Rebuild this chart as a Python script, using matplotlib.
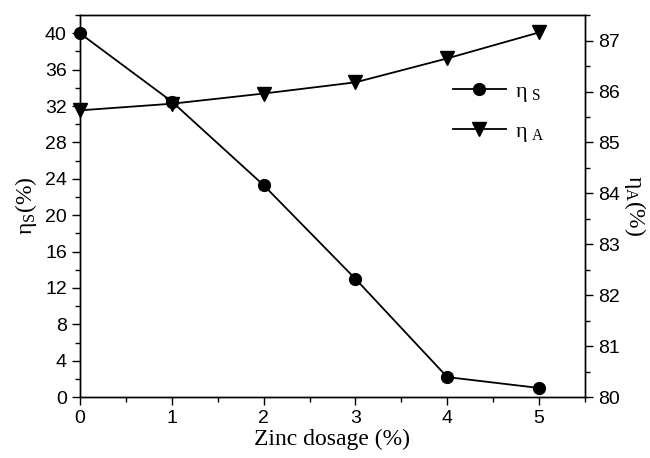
import matplotlib.pyplot as plt
from matplotlib.ticker import MultipleLocator

dosage = [0, 1, 2, 3, 4, 5]
eta_s = [40.0, 32.5, 23.3, 13.0, 2.2, 1.0]
eta_a = [85.63, 85.76, 85.96, 86.18, 86.65, 87.16]

plt.rcParams['font.family'] = ['Liberation Sans', 'DejaVu Sans']
plt.rcParams['xtick.direction'] = 'out'
plt.rcParams['ytick.direction'] = 'out'

fig = plt.figure(figsize=(6.5, 4.58), dpi=100)
ax = fig.add_axes([0.123, 0.133, 0.777, 0.834])
ax2 = ax.twinx()

l1, = ax.plot(dosage, eta_s, color='black', marker='o', ms=8.5, lw=1.3, clip_on=False, zorder=5)
l2, = ax2.plot(dosage, eta_a, color='black', marker='v', ms=9.5, lw=1.3, clip_on=False, zorder=5)

ax.set_xlim(0, 5.5)
ax.set_ylim(0, 42)
ax2.set_ylim(80, 87.5)

ax.xaxis.set_major_locator(MultipleLocator(1))
ax.xaxis.set_minor_locator(MultipleLocator(0.5))
ax.yaxis.set_major_locator(MultipleLocator(4))
ax.yaxis.set_minor_locator(MultipleLocator(2))
ax2.yaxis.set_major_locator(MultipleLocator(1))
ax2.yaxis.set_minor_locator(MultipleLocator(0.5))

for a in (ax, ax2):
    a.tick_params(which='major', length=6, width=1, labelsize=14)
    a.tick_params(which='minor', length=3.5, width=1)
    for s in a.spines.values():
        s.set_linewidth(1)

serif = ['Liberation Serif', 'DejaVu Serif']
ax.set_xlabel('Zinc dosage (%)', family=serif, fontsize=17, labelpad=1)
ax.set_ylabel(r'$\mathregular{\eta_{S}}$(%)', family=serif, fontsize=17, labelpad=4)
ax2.set_ylabel(r'$\mathregular{\eta_{A}}$(%)', family=serif, fontsize=17, rotation=270, labelpad=20)

leg = ax.legend([l1, l2], [r'$\mathregular{\eta_{\ S}}$', r'$\mathregular{\eta_{\ A}}$'],
                loc='upper right', bbox_to_anchor=(0.96, 0.88), frameon=False,
                prop={'family': serif, 'size': 16}, handlelength=2.4, handletextpad=0.4,
                labelspacing=0.8)

fig.savefig('out.png', dpi=100)
